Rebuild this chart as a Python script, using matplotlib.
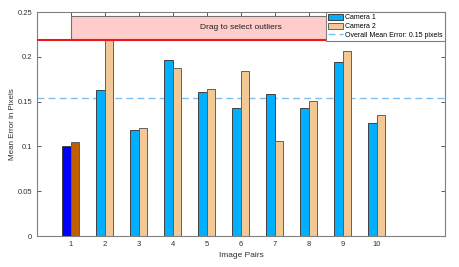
import matplotlib.pyplot as plt
import numpy as np
from matplotlib.patches import Rectangle, Patch
from matplotlib.lines import Line2D

# mean reprojection error per image pair
pairs = [1, 2, 3, 4, 5, 6, 7, 8, 9, 10]
camera1 = [0.101, 0.163, 0.118, 0.196, 0.161, 0.143, 0.159, 0.143, 0.194, 0.126]
camera2 = [0.105, 0.232, 0.120, 0.188, 0.164, 0.184, 0.106, 0.151, 0.206, 0.135]
overall_mean = 0.154
outlier_threshold = 0.219

plt.rcParams['font.family'] = ['Liberation Sans', 'DejaVu Sans']

fig = plt.figure(figsize=(4.59, 2.67), dpi=100)
ax = fig.add_axes([0.0806, 0.1161, 0.8889, 0.8389])

x = np.array(pairs)
w = 0.24
# first pair is shown as selected (darker colours)
c1 = ['#0000ff'] + ['#00b0ff'] * (len(pairs) - 1)
c2 = ['#c05f00'] + ['#f2c894'] * (len(pairs) - 1)
ax.bar(x - 0.13, camera1, w, color=c1, edgecolor='#404040', linewidth=0.7, zorder=2)
ax.bar(x + 0.13, camera2, w, color=c2, edgecolor='#606060', linewidth=0.7, zorder=2)
ax.axhline(overall_mean, color='#80bfef', ls=(0, (5, 3)), lw=1.0, zorder=1)

# outlier selection box
ax.add_patch(Rectangle((1, outlier_threshold), 10, 0.2455 - outlier_threshold,
                       facecolor='#ffcccc', edgecolor='#707070', lw=0.8, zorder=3))
ax.axhline(outlier_threshold, color='#e8181c', lw=1.5, zorder=4)
ax.text(6, (outlier_threshold + 0.2455) / 2, 'Drag to select outliers',
        ha='center', va='center', fontsize=6, color='#202020', zorder=5)

ax.set_xlim(0, 12)
ax.set_ylim(0, 0.25)
ax.set_xticks(pairs)
ax.set_yticks([0, 0.05, 0.1, 0.15, 0.2, 0.25])
ax.set_yticklabels(['0', '0.05', '0.1', '0.15', '0.2', '0.25'])
ax.tick_params(direction='in', length=3, width=0.6, labelsize=5.5, colors='#404040',
               top=True, right=True, labelcolor='#303030')
for s in ax.spines.values():
    s.set_color('#808080')
    s.set_linewidth(0.8)
ax.set_xlabel('Image Pairs', fontsize=6, color='#303030', labelpad=3)
ax.set_ylabel('Mean Error in Pixels', fontsize=5.8, color='#303030', labelpad=1)

handles = [Patch(facecolor='#00b0ff', edgecolor='#404040', lw=0.7),
           Patch(facecolor='#f2c894', edgecolor='#606060', lw=0.7),
           Line2D([0], [0], color='#80bfef', ls=(0, (5, 3)), lw=1.0)]
leg = ax.legend(handles, ['Camera 1', 'Camera 2', 'Overall Mean Error: 0.15 pixels'],
                loc='upper right', bbox_to_anchor=(1, 1), borderaxespad=0,
                fontsize=5, fancybox=False, framealpha=1, edgecolor='#808080',
                handlelength=2.2, handleheight=0.9, labelspacing=0.2,
                handletextpad=0.3, borderpad=0.3)
leg.set_zorder(10)
leg.get_frame().set_linewidth(0.8)

fig.savefig('out.png', dpi=100)
